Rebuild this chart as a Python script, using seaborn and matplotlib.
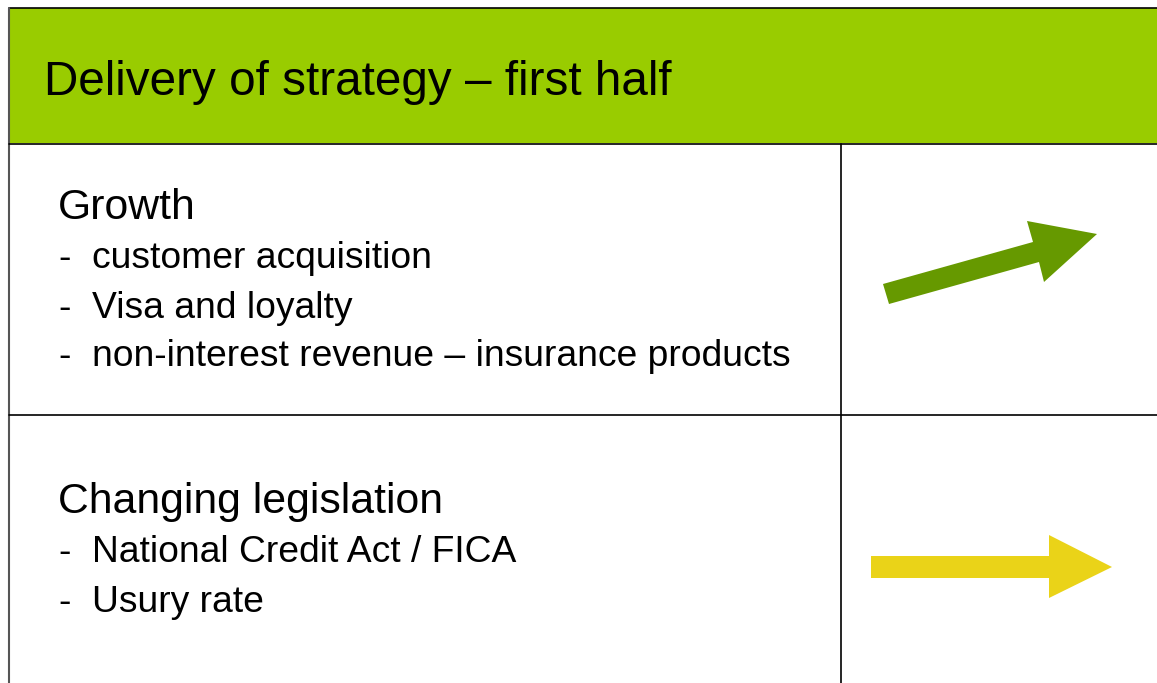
import matplotlib
matplotlib.use("Agg")
import matplotlib.pyplot as plt
import seaborn as sns
from matplotlib.patches import Rectangle, Polygon

# slide content
title = "Delivery of strategy – first half"
headings = ["Growth", "Changing legislation"]
bullets = [
    ["customer acquisition", "Visa and loyalty", "non-interest revenue – insurance products"],
    ["National Credit Act / FICA", "Usury rate"],
]
trend = ["up", "flat"]
trend_colors = {"up": "#669900", "flat": "#EAD318"}

sns.set_theme(style="white")
plt.rcParams['font.family'] = ['Liberation Sans', 'DejaVu Sans']
plt.rcParams['text.color'] = 'black'

W, H = 1157, 683
fig = plt.figure(figsize=(W / 100, H / 100), dpi=100)
ax = fig.add_axes([0, 0, 1, 1])
ax.set_xlim(0, W)
ax.set_ylim(H, 0)
ax.axis("off")

# header band
ax.add_patch(Rectangle((8.5, 7.5), W, 135.5, facecolor="#99CC00", edgecolor="none"))
ax.text(44, 95, title, fontsize=34.3, va="baseline", ha="left")

# table lines
lc = "black"
ax.plot([8.5, W], [7.5, 7.5], color=lc, lw=1.2)
ax.plot([8.5, 8.5], [7.5, H], color="#555555", lw=1.5)
ax.plot([8.5, W], [143.5, 143.5], color=lc, lw=1.2)
ax.plot([8.5, W], [414.5, 414.5], color=lc, lw=1.2)
ax.plot([840.5, 840.5], [143.5, H], color=lc, lw=1.2)

# text rows
head_y = [219, 513]
for i, (h, items) in enumerate(zip(headings, bullets)):
    ax.text(58, head_y[i], h, fontsize=30.8, va="baseline", ha="left")
    for j, it in enumerate(items):
        y = head_y[i] + 49.5 + 49 * j
        ax.text(58, y, "-", fontsize=26.8, va="baseline", ha="left")
        ax.text(92, y, it, fontsize=26.8, va="baseline", ha="left")

# trend arrows
shapes = {
    "up": [(883, 284), (1033, 242), (1027, 221), (1097, 234), (1044, 282), (1039, 262), (889, 304)],
    "flat": [(871, 556), (1049, 556), (1049, 535), (1112, 567), (1049, 598), (1049, 578), (871, 578)],
}
for t in trend:
    ax.add_patch(Polygon(shapes[t], closed=True, facecolor=trend_colors[t], edgecolor="none"))

fig.savefig("out.png", dpi=100)
